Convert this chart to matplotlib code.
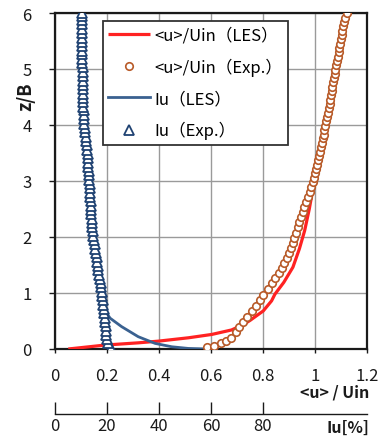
import matplotlib
matplotlib.use("Agg")
import matplotlib.pyplot as plt

plt.rcParams['font.family'] = ['Noto Sans CJK JP', 'DejaVu Sans']

# ---- data ----
# <u>/Uin experiment (circles)
z_u_exp = [0.04, 0.06, 0.10, 0.14, 0.20, 0.30, 0.40, 0.49, 0.58, 0.68, 0.77, 0.88, 0.96, 1.07, 1.18,
           1.27, 1.36, 1.45, 1.54, 1.63, 1.72, 1.81, 1.90, 1.99, 2.08, 2.17, 2.26, 2.35, 2.44, 2.53,
           2.62, 2.71, 2.80, 2.89, 2.98, 3.06, 3.14, 3.22, 3.29, 3.37, 3.45, 3.52, 3.60, 3.68, 3.76,
           3.83, 3.91, 3.99, 4.07, 4.14, 4.22, 4.30, 4.37, 4.45, 4.53, 4.60, 4.68, 4.76, 4.84, 4.91,
           4.99, 5.07, 5.14, 5.22, 5.30, 5.37, 5.45, 5.53, 5.61, 5.68, 5.76, 5.84, 5.91, 6.00]
u_exp = [0.583, 0.612, 0.637, 0.658, 0.677, 0.696, 0.709, 0.724, 0.740, 0.756, 0.773, 0.788, 0.801, 0.820, 0.835,
         0.848, 0.861, 0.872, 0.882, 0.892, 0.901, 0.908, 0.915, 0.921, 0.927, 0.933, 0.940, 0.946, 0.953, 0.959,
         0.966, 0.972, 0.979, 0.986, 0.992, 0.997, 1.000, 1.004, 1.007, 1.011, 1.016, 1.019, 1.023, 1.027, 1.030,
         1.033, 1.036, 1.040, 1.043, 1.046, 1.050, 1.053, 1.056, 1.059, 1.061, 1.064, 1.066, 1.069, 1.072, 1.075,
         1.077, 1.081, 1.084, 1.087, 1.091, 1.094, 1.097, 1.100, 1.103, 1.105, 1.108, 1.112, 1.116, 1.122]

# <u>/Uin LES (red line)
z_u_les = [0.00, 0.07, 0.11, 0.14, 0.20, 0.26, 0.34, 0.43, 0.51, 0.68, 0.86, 0.98, 1.19, 1.46, 1.79,
           2.11, 2.50, 2.86, 3.04, 3.51, 4.11, 4.79, 5.42, 6.00]
u_les = [0.051, 0.192, 0.320, 0.397, 0.513, 0.603, 0.679, 0.722, 0.750, 0.801, 0.833, 0.846, 0.880, 0.915, 0.940,
         0.960, 0.978, 0.992, 0.997, 1.019, 1.045, 1.070, 1.096, 1.122]

# Iu experiment (triangles), Iu as fraction (0.2 = 20 %)
z_iu_exp = [0.02, 0.10, 0.17, 0.25, 0.33, 0.41, 0.48, 0.56, 0.64, 0.71, 0.79, 0.87, 0.94, 1.02, 1.10,
            1.18, 1.25, 1.33, 1.41, 1.48, 1.56, 1.64, 1.71, 1.79, 1.87, 1.95, 2.02, 2.10, 2.18, 2.25,
            2.33, 2.41, 2.48, 2.56, 2.64, 2.72, 2.79, 2.87, 2.95, 3.02, 3.10, 3.18, 3.25, 3.33, 3.41,
            3.49, 3.56, 3.64, 3.72, 3.79, 3.87, 3.95, 4.02, 4.10, 4.18, 4.26, 4.33, 4.41, 4.49, 4.56,
            4.64, 4.72, 4.79, 4.87, 4.95, 5.03, 5.10, 5.18, 5.26, 5.33, 5.41, 5.49, 5.56, 5.64, 5.72,
            5.80, 5.87, 5.94, 6.00]
iu_exp = [0.214, 0.205, 0.200, 0.198, 0.196, 0.195, 0.193, 0.191, 0.189, 0.187, 0.185, 0.183, 0.181, 0.179, 0.177,
          0.175, 0.172, 0.170, 0.167, 0.165, 0.162, 0.160, 0.158, 0.155, 0.153, 0.150, 0.148, 0.146, 0.144, 0.143,
          0.141, 0.140, 0.139, 0.138, 0.137, 0.136, 0.135, 0.134, 0.133, 0.132, 0.131, 0.129, 0.128, 0.127, 0.126,
          0.125, 0.124, 0.122, 0.120, 0.118, 0.116, 0.114, 0.113, 0.112, 0.111, 0.110, 0.109, 0.108, 0.108, 0.107,
          0.107, 0.107, 0.106, 0.106, 0.106, 0.106, 0.105, 0.105, 0.105, 0.105, 0.104, 0.104, 0.104, 0.103, 0.103,
          0.103, 0.103, 0.102, 0.102]

# Iu LES (blue line)
z_iu_les = [0.00, 0.01, 0.04, 0.10, 0.22, 0.40, 0.55, 0.70, 1.00, 1.50, 2.00, 3.00, 4.00, 5.00, 6.00]
iu_les = [0.580, 0.513, 0.449, 0.385, 0.320, 0.256, 0.212, 0.190, 0.180, 0.165, 0.148, 0.132, 0.113, 0.106, 0.102]

x_ticks = [0, 0.2, 0.4, 0.6, 0.8, 1.0, 1.2]
x_ticklabels = ['0', '0.2', '0.4', '0.6', '0.8', '1', '1.2']
y_ticks = [0, 1, 2, 3, 4, 5, 6]
iu_ticks = [0, 20, 40, 60, 80]

labels = ['<u>/Uin（LES）', '<u>/Uin（Exp.）', 'Iu（LES）', 'Iu（Exp.）']

# ---- figure ----
W, H = 383, 439
fig = plt.figure(figsize=(W / 100, H / 100), dpi=100)
ax = fig.add_axes([55 / W, (H - 350) / H, 312 / W, 336 / H])

red = '#ff2222'
blue = '#3a6190'
brown = '#b85a28'
navy = '#1f4272'
txt = '#1a1a1a'

l1, = ax.plot(u_les, z_u_les, color=red, lw=2.3, zorder=3, solid_capstyle='butt')
l3, = ax.plot(iu_les, z_iu_les, color=blue, lw=2.0, zorder=3)
l2, = ax.plot(u_exp, z_u_exp, ls='none', marker='o', ms=5.4, mfc='white', mec=brown, mew=1.2, zorder=4)
l4, = ax.plot(iu_exp, z_iu_exp, ls='none', marker='^', ms=7.5, mfc='white', mec=navy, mew=1.3, zorder=4)

ax.set_xlim(0, 1.2)
ax.set_ylim(0, 6)
ax.set_xticks(x_ticks)
ax.set_xticklabels(x_ticklabels)
ax.set_yticks(y_ticks)
ax.grid(True, color='#9a9a9a', lw=1.0)
ax.set_axisbelow(True)
for s in ax.spines.values():
    s.set_color(txt)
    s.set_linewidth(1.6)
ax.tick_params(axis='x', direction='out', length=3, width=1, pad=10, labelsize=12, colors=txt)
ax.tick_params(axis='y', direction='out', length=4, width=1, pad=13, labelsize=12, colors=txt)

ax.set_ylabel('z/B', fontsize=13, fontweight='bold', color=txt)
ax.yaxis.set_label_coords(-0.062, 0.755)
ax.text(1.008, -0.127, '<u> / Uin', transform=ax.transAxes, ha='right', va='center',
        fontsize=11.5, fontweight='bold', color=txt)

sec = ax.secondary_xaxis(-0.193, functions=(lambda x: x * 100, lambda x: x / 100))
sec.set_xticks(iu_ticks)
sec.set_xticklabels([str(t) for t in iu_ticks])
sec.tick_params(direction='in', length=9, width=1, pad=2, labelsize=12, colors=txt)
sec.spines['bottom'].set_linewidth(1.0)
sec.spines['bottom'].set_color(txt)
ax.text(1.008, -0.232, 'Iu[%]', transform=ax.transAxes, ha='right', va='center',
        fontsize=11.5, fontweight='bold', color=txt)

leg = ax.legend([l1, l2, l3, l4], labels, loc='upper left',
                bbox_to_anchor=(0.154, 0.976), fontsize=12, frameon=True, fancybox=False,
                handlelength=2.5, handletextpad=0.25, labelspacing=0.85, borderpad=0.32,
                borderaxespad=0)
leg.get_frame().set_edgecolor('#333333')
leg.get_frame().set_linewidth(1.3)
leg.get_frame().set_alpha(1)

fig.savefig('out.png', dpi=100)
